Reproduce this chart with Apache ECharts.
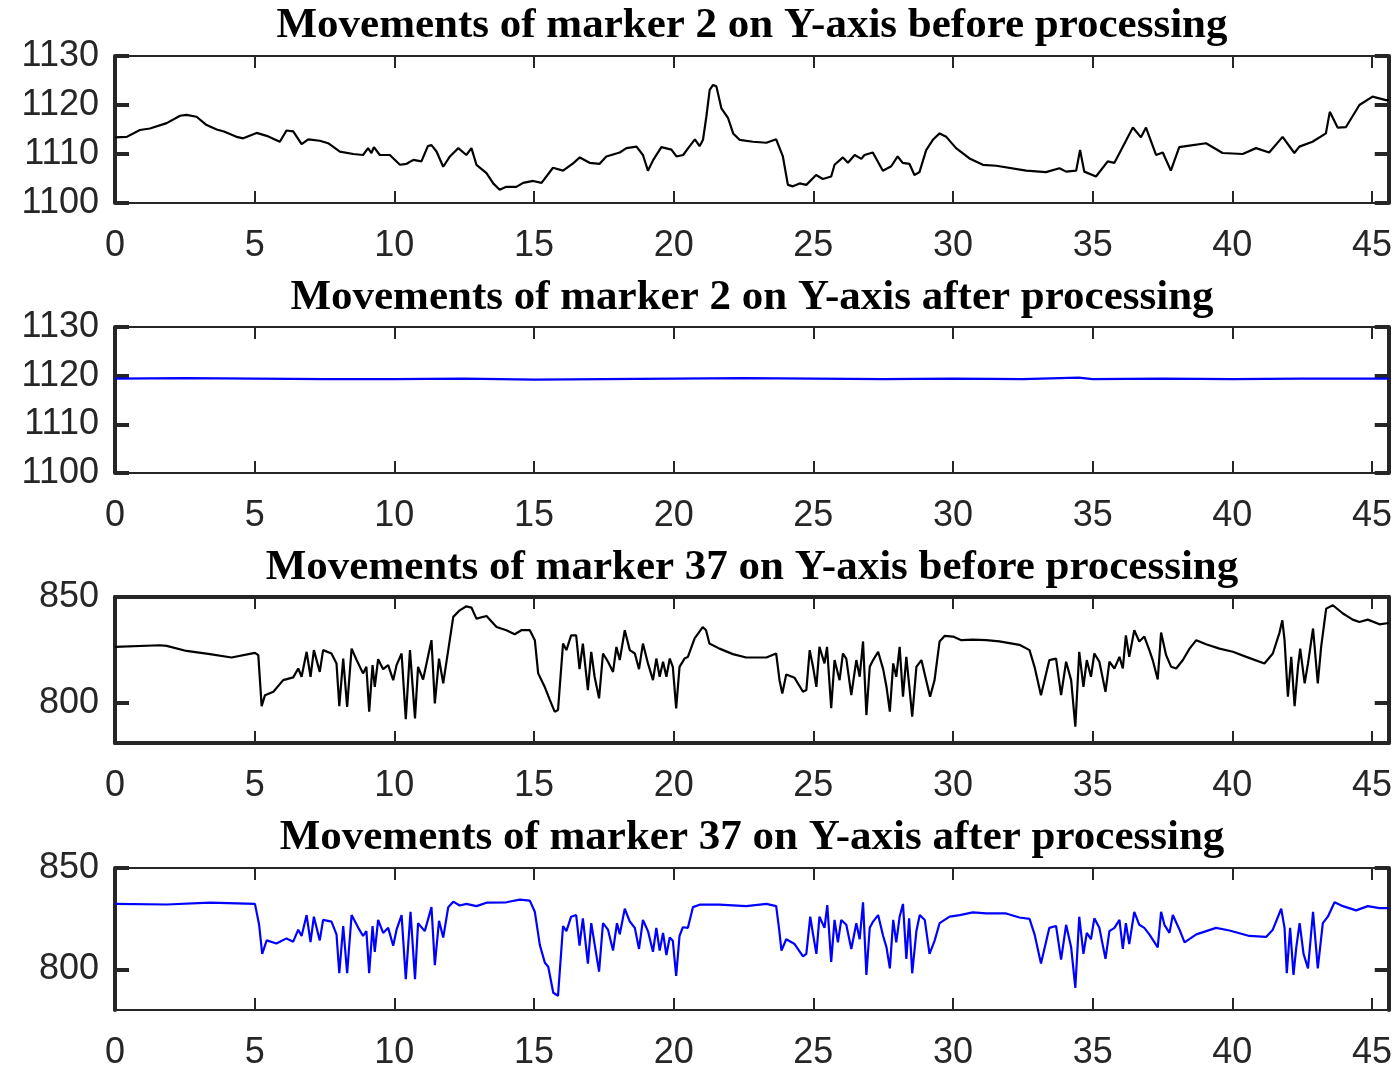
<!DOCTYPE html>
<html>
<head>
<meta charset="utf-8">
<script src="https://cdn.jsdelivr.net/npm/echarts@6/dist/echarts.min.js"></script>
<style>html,body{margin:0;padding:0;background:#fff;}#c{width:1395px;height:1071px;}</style>
</head>
<body>
<div id="c"></div>
<script>
// ---- data (time in s, position in px units) ----
const titles = [
  'Movements of marker 2 on Y-axis before processing',
  'Movements of marker 2 on Y-axis after processing',
  'Movements of marker 37 on Y-axis before processing',
  'Movements of marker 37 on Y-axis after processing'
];
const xTicks = [0, 5, 10, 15, 20, 25, 30, 35, 40, 45];
const yTicksM2 = [1100, 1110, 1120, 1130];
const yTicksM37 = [800, 850];

const m2BeforeT = [0,0.42,0.89,1.25,1.85,2.33,2.56,2.92,3.28,3.64,3.9,4.35,4.59,5.07,5.43,5.9,6.14,6.38,6.68,6.92,7.33,7.63,8.05,8.53,8.88,9.06,9.18,9.27,9.48,9.84,10.2,10.44,10.68,10.97,11.2,11.33,11.51,11.75,11.99,12.29,12.58,12.76,12.94,13.3,13.54,13.77,14.01,14.37,14.61,14.97,15.27,15.68,16.04,16.4,16.64,16.99,17.35,17.59,18.07,18.31,18.67,18.9,19.08,19.27,19.56,19.92,20.1,20.34,20.52,20.76,20.93,21.05,21.17,21.29,21.41,21.53,21.71,21.95,22.13,22.36,22.84,23.32,23.67,23.91,24.09,24.27,24.51,24.75,25.1,25.34,25.64,25.76,26.06,26.24,26.48,26.72,26.83,27.13,27.49,27.79,28.02,28.2,28.44,28.62,28.8,29.04,29.28,29.52,29.76,30.11,30.59,31.07,31.55,32.62,33.33,33.81,34.05,34.41,34.55,34.7,35.12,35.54,35.78,36.08,36.44,36.73,36.91,37.27,37.51,37.8,38.1,38.34,39.06,39.65,40.37,40.85,41.32,41.8,42.22,42.4,42.87,43.35,43.49,43.77,44.07,44.55,45.02,45.5,45.6];
const m2BeforeV = [1113.4,1113.5,1114.9,1115.2,1116.3,1117.8,1118.0,1117.6,1115.9,1115.0,1114.6,1113.5,1113.2,1114.3,1113.7,1112.5,1114.8,1114.6,1112.0,1113.0,1112.7,1112.2,1110.5,1110.0,1109.8,1111.2,1110.2,1111.4,1109.8,1109.8,1107.8,1108.0,1108.8,1108.5,1111.6,1111.8,1110.5,1107.4,1109.5,1111.2,1109.8,1111.2,1107.8,1106.1,1104.0,1102.7,1103.3,1103.3,1104.1,1104.5,1104.1,1107.2,1106.6,1108.1,1109.3,1108.2,1108.0,1109.5,1110.3,1111.2,1111.5,1109.8,1106.6,1108.8,1111.4,1110.9,1109.5,1109.8,1111.2,1113.0,1111.6,1112.9,1117.6,1123.1,1124.1,1123.8,1119.3,1117.3,1114.2,1112.9,1112.5,1112.3,1113.0,1109.5,1103.7,1103.4,1104.0,1103.7,1105.7,1104.9,1105.4,1107.8,1109.3,1108.2,1109.8,1109.0,1109.8,1110.3,1106.6,1107.5,1109.5,1108.2,1108.0,1105.7,1106.3,1110.8,1112.9,1114.2,1113.5,1111.2,1109.1,1107.8,1107.6,1106.6,1106.3,1107.1,1106.4,1106.6,1110.8,1106.4,1105.4,1108.5,1108.2,1111.5,1115.4,1113.4,1115.4,1109.8,1110.3,1106.6,1111.4,1111.6,1112.2,1110.2,1110.0,1111.2,1110.3,1113.5,1110.2,1111.5,1112.5,1114.2,1118.6,1115.4,1115.5,1120.0,1121.7,1121.0,1121.0];

const m2AfterT = [0,2.5,5,7.5,10,12.5,15,17.5,20,22.5,25,27.5,30,32.5,34.5,35,37.5,40,42.5,45.6];
const m2AfterV = [1119.4,1119.5,1119.4,1119.3,1119.3,1119.4,1119.2,1119.3,1119.4,1119.5,1119.4,1119.3,1119.4,1119.3,1119.6,1119.3,1119.4,1119.3,1119.4,1119.4];

const m37BeforeT = [0.0,1.61,1.85,2.56,3.4,4.17,5.01,5.13,5.25,5.37,5.67,6.02,6.38,6.56,6.68,6.86,7.0,7.12,7.33,7.45,7.75,7.93,8.03,8.17,8.31,8.47,8.65,8.88,9.0,9.1,9.22,9.3,9.42,9.6,9.78,9.96,10.08,10.26,10.41,10.56,10.74,10.85,11.03,11.33,11.45,11.6,11.75,11.93,12.11,12.34,12.58,12.76,12.94,13.3,13.66,14.01,14.31,14.55,14.85,15.03,15.15,15.39,15.57,15.74,15.86,16.04,16.16,16.33,16.51,16.63,16.75,16.93,17.05,17.17,17.33,17.47,17.65,17.83,17.95,18.07,18.25,18.43,18.61,18.76,18.9,19.08,19.26,19.38,19.5,19.62,19.74,19.86,19.97,20.09,20.21,20.39,20.51,20.75,21.04,21.16,21.28,21.64,22.12,22.6,23.32,23.67,23.79,23.89,24.03,24.33,24.63,24.75,24.87,24.99,25.11,25.22,25.4,25.49,25.64,25.76,25.94,26.06,26.18,26.36,26.54,26.66,26.78,26.9,27.02,27.14,27.32,27.5,27.62,27.74,27.86,27.97,28.09,28.21,28.33,28.45,28.54,28.69,28.87,29.04,29.18,29.34,29.52,29.7,30.0,30.3,30.71,31.19,31.66,32.38,32.74,32.92,33.15,33.45,33.69,33.87,34.05,34.23,34.38,34.52,34.67,34.79,34.94,35.06,35.24,35.46,35.6,35.78,35.96,36.08,36.19,36.31,36.49,36.67,36.85,37.03,37.15,37.33,37.45,37.63,37.81,37.99,38.23,38.47,38.71,39.06,39.54,40.02,40.5,41.15,41.45,41.69,41.79,41.87,41.99,42.11,42.23,42.35,42.43,42.59,42.71,42.89,43.06,43.18,43.36,43.6,43.96,44.31,44.55,44.85,45.27,45.6];
const m37BeforeV = [826.4,827.2,826.9,824.5,823.0,821.4,823.6,822.5,798.4,803.6,805.2,810.7,812.0,816.2,812.3,824.1,812.3,824.9,814.6,824.9,823.3,818.6,798.4,820.9,798.1,825.6,820.2,813.9,817.0,795.8,817.8,807.5,820.6,815.9,817.8,810.7,817.8,823.3,792.2,824.9,792.6,817.0,811.0,829.6,799.7,820.9,809.2,824.9,840.6,843.7,845.6,845.0,839.8,841.0,835.8,834.3,832.4,834.3,834.3,829.6,813.9,807.3,801.3,795.8,796.6,828.0,824.9,831.9,831.9,815.9,828.0,806.0,824.1,812.3,802.1,823.3,819.4,814.6,826.4,820.2,834.3,824.9,823.3,815.9,828.0,818.6,810.7,820.9,812.3,819.4,812.3,820.9,817.0,797.4,817.0,820.9,821.7,830.4,835.8,834.3,828.0,825.6,823.0,821.4,821.4,823.3,810.7,804.4,813.4,811.8,805.2,806.0,824.9,817.0,807.5,826.4,818.6,826.4,797.4,820.2,810.7,823.3,820.9,803.6,820.2,812.3,829.0,794.2,817.0,820.2,824.1,815.9,807.5,795.8,818.6,812.3,826.4,802.9,821.7,806.0,793.4,817.0,820.2,810.7,802.9,810.7,829.0,831.6,831.3,829.6,829.9,829.6,829.0,827.4,824.9,817.0,803.6,820.2,820.9,803.6,819.4,810.7,788.7,824.1,807.5,820.2,812.3,823.3,819.4,805.2,819.4,816.2,821.7,816.2,831.9,821.7,834.3,829.0,831.3,824.9,820.2,811.0,833.2,822.5,817.0,816.2,820.2,825.6,829.6,827.7,825.6,824.1,821.7,818.6,823.3,833.2,839.0,829.6,802.9,821.7,798.4,817.0,825.6,809.2,818.6,835.1,809.2,826.4,844.5,846.1,842.2,839.3,838.2,839.3,837.1,837.7];

const m37AfterT = [0.0,1.85,3.4,5.01,5.16,5.27,5.43,5.78,6.14,6.38,6.56,6.68,6.86,7.0,7.12,7.33,7.45,7.75,7.93,8.03,8.17,8.31,8.47,8.71,8.88,9.0,9.1,9.22,9.3,9.42,9.6,9.78,9.96,10.08,10.26,10.41,10.58,10.74,10.85,11.09,11.33,11.45,11.6,11.75,11.93,12.11,12.34,12.58,12.94,13.3,14.01,14.49,14.85,15.03,15.21,15.39,15.51,15.69,15.86,16.04,16.16,16.33,16.51,16.63,16.75,16.93,17.05,17.17,17.33,17.47,17.65,17.83,17.97,18.07,18.25,18.43,18.61,18.76,18.9,19.08,19.26,19.38,19.5,19.62,19.74,19.86,19.97,20.09,20.21,20.33,20.51,20.69,20.93,21.64,22.6,23.32,23.67,23.77,23.86,24.03,24.33,24.63,24.75,24.89,24.99,25.11,25.22,25.4,25.5,25.64,25.76,25.88,26.0,26.18,26.36,26.54,26.66,26.78,26.9,27.02,27.14,27.32,27.5,27.62,27.74,27.86,27.97,28.09,28.21,28.33,28.43,28.54,28.69,28.81,28.99,29.16,29.34,29.52,29.88,30.24,30.71,31.19,31.9,32.38,32.74,32.92,33.15,33.45,33.69,33.87,34.05,34.23,34.38,34.52,34.67,34.79,34.94,35.06,35.24,35.46,35.6,35.78,35.96,36.08,36.19,36.31,36.49,36.67,36.85,37.03,37.18,37.33,37.45,37.57,37.75,37.87,38.11,38.29,38.71,39.42,39.9,40.61,41.21,41.45,41.75,41.87,41.95,42.07,42.19,42.29,42.41,42.55,42.71,42.89,43.06,43.24,43.42,43.66,43.96,44.43,44.85,45.27,45.6];
const m37AfterV = [832.3,832.0,832.9,832.3,822.0,807.7,814.3,812.8,815.3,813.7,819.6,816.5,826.8,813.5,826.0,814.3,824.4,823.6,817.3,798.1,821.4,798.1,826.8,820.5,816.5,818.9,798.1,821.4,808.7,824.4,818.0,820.5,811.7,819.6,826.8,795.2,828.4,795.2,822.8,818.9,830.7,802.1,824.0,815.7,830.7,833.4,831.5,832.3,831.2,832.9,833.1,834.4,833.9,828.4,812.0,803.3,801.3,788.5,787.0,821.4,818.9,826.0,826.8,811.7,825.2,802.9,822.8,812.5,798.9,822.8,819.6,809.3,822.8,817.3,829.9,823.6,820.5,810.1,824.4,818.9,808.7,820.5,809.3,818.0,807.1,815.7,814.1,796.8,816.5,820.8,820.5,830.7,831.9,831.9,831.2,832.3,831.2,820.5,809.3,814.9,812.5,806.4,807.7,826.0,817.3,807.7,826.0,820.5,831.7,803.7,824.4,813.3,824.4,822.0,810.1,822.8,814.9,833.1,797.3,820.5,823.6,826.8,816.5,810.9,800.5,824.4,813.3,826.0,832.3,805.2,825.2,798.1,818.9,826.8,824.4,807.7,814.1,822.8,826.0,826.8,828.1,827.6,827.6,825.6,824.9,817.3,802.9,820.5,821.4,804.8,822.0,810.9,790.9,826.0,807.7,818.0,814.9,825.2,820.5,805.2,818.9,820.5,824.4,810.1,822.8,812.5,828.4,822.0,820.5,817.3,814.1,810.9,828.4,822.0,818.0,826.8,819.6,813.3,817.3,820.5,819.2,816.5,816.0,819.6,829.9,820.5,798.1,820.5,797.3,810.9,822.8,807.7,800.5,828.4,800.5,822.8,826.0,833.1,831.2,829.1,831.2,830.2,830.2];

const zip = (t, v) => t.map((x, i) => [x, v[i]]);

// ---- layout ----
const plotLeft = 115, plotRight = 6;
const panels = [
  { top: 56, height: 147, min: 1100, max: 1130, ticks: yTicksM2, t: m2BeforeT, v: m2BeforeV, color: '#000000', titleTop: 4, lw: [2, 2, 4, 4] },
  { top: 327, height: 146, min: 1100, max: 1130, ticks: yTicksM2, t: m2AfterT, v: m2AfterV, color: '#0000ff', titleTop: 276, lw: [2, 2, 4, 4] },
  { top: 597, height: 146, min: 781, max: 850, ticks: yTicksM37, t: m37BeforeT, v: m37BeforeV, color: '#000000', titleTop: 546, lw: [4, 4, 4, 4] },
  { top: 868, height: 147, min: 780, max: 850, ticks: yTicksM37, t: m37AfterT, v: m37AfterV, color: '#0000ff', titleTop: 816, lw: [2, 2, 4, 4] }
];
const axisColor = '#262626';
const labelFont = { fontFamily: 'Liberation Sans', fontSize: 36, color: '#262626' };
const plainNum = v => String(v);

const option = {
  animation: false,
  backgroundColor: '#ffffff',
  title: panels.map((p, i) => ({
    text: titles[i], left: 752, top: p.titleTop, textAlign: 'center', padding: 0,
    textStyle: { fontFamily: 'Liberation Serif', fontWeight: 'bold', fontSize: 43, color: '#000' }
  })),
  grid: panels.map(p => ({ left: plotLeft, right: plotRight, top: p.top, height: p.height, containLabel: false })),
  xAxis: [],
  yAxis: [],
  series: []
};

panels.forEach((p, i) => {
  option.xAxis.push({
    type: 'value', gridIndex: i, min: 0, max: 45.6, position: 'bottom',
    axisLine: { onZero: false, lineStyle: { color: axisColor, width: p.lw[1] } },
    axisTick: { inside: true, length: 12, lineStyle: { color: axisColor, width: 2 }, customValues: xTicks },
    axisLabel: Object.assign({ margin: 25, customValues: xTicks, formatter: plainNum }, labelFont),
    splitLine: { show: false }
  });
  option.xAxis.push({
    type: 'value', gridIndex: i, min: 0, max: 45.6, position: 'top',
    axisLine: { onZero: false, lineStyle: { color: axisColor, width: p.lw[0] } },
    axisTick: { inside: true, length: 12, lineStyle: { color: axisColor, width: 2 }, customValues: xTicks },
    axisLabel: { show: false },
    splitLine: { show: false }
  });
  option.yAxis.push({
    type: 'value', gridIndex: i, min: p.min, max: p.max, position: 'left',
    axisLine: { onZero: false, show: true, lineStyle: { color: axisColor, width: p.lw[2] } },
    axisTick: { show: true, inside: true, length: 14, lineStyle: { color: axisColor, width: 4 }, customValues: p.ticks },
    axisLabel: Object.assign({ margin: 16, customValues: p.ticks, formatter: plainNum }, labelFont),
    splitLine: { show: false }
  });
  option.yAxis.push({
    type: 'value', gridIndex: i, min: p.min, max: p.max, position: 'right',
    axisLine: { onZero: false, show: true, lineStyle: { color: axisColor, width: p.lw[3] } },
    axisTick: { show: true, inside: true, length: 14, lineStyle: { color: axisColor, width: 4 }, customValues: p.ticks },
    axisLabel: { show: false },
    splitLine: { show: false }
  });
  option.series.push({
    type: 'line', xAxisIndex: i * 2, yAxisIndex: i * 2,
    data: zip(p.t, p.v), showSymbol: false, symbol: 'none',
    lineStyle: { color: p.color, width: 2.2 }, clip: true
  });
});

const chart = echarts.init(document.getElementById('c'), null, { renderer: 'canvas' });
chart.setOption(option);
</script>
</body>
</html>
